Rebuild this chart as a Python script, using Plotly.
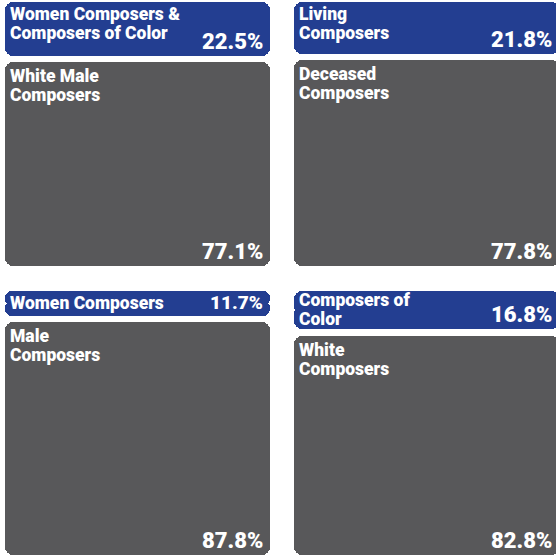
import plotly.graph_objects as go

# ---- data ----
blue_labels = [["Women Composers &", "Composers of Color"], ["Living", "Composers"],
               ["Women Composers"], ["Composers of", "Color"]]
blue_values = [22.5, 21.8, 11.7, 16.8]
gray_labels = [["White Male", "Composers"], ["Deceased", "Composers"],
               ["Male", "Composers"], ["White", "Composers"]]
gray_values = [77.1, 77.8, 87.8, 82.8]
blue_pct_sizes = [22, 22, 19, 22]

# ---- style ----
W, H = 556, 555
BLUE = "#233E91"
GRAY = "#58585A"
GAP = 2.3          # gap between the two blocks (data units)
RADIUS = 8
FONT = "Roboto"
LABEL_SIZE = 17.5
LINE_H = 19
CAP_H = 12.5
CAP_OFFSET = 6.5   # approx. distance from annotation top to cap top
WEIGHT = 900
PAD_BLUE = 6.5
PAD_GRAY = 8.5

# panel pixel boxes: (left, right_visible, bar_right), (top, bottom)
px_x = [(5, 270, 270), (294, 556, 559), (5, 270, 270), (294, 556, 559)]
px_y = [(1, 266), (1, 266), (290, 555), (290, 555)]

fig = go.Figure()
layout = dict(width=W, height=H, margin=dict(l=0, r=0, t=0, b=0),
              paper_bgcolor="white", plot_bgcolor="white",
              barmode="overlay", bargap=0, showlegend=False)
annotations = []

for i in range(4):
    n = i + 1
    xa = "x" if n == 1 else f"x{n}"
    ya = "y" if n == 1 else f"y{n}"
    left, rvis, rbar = px_x[i]
    top, bot = px_y[i]
    full_w = rbar - left
    vis_w = rvis - left
    px_per_unit = (bot - top) / 100.0
    layout[f"xaxis{'' if n == 1 else n}"] = dict(
        domain=[left / W, rvis / W], range=[-0.5, -0.5 + vis_w / full_w],
        visible=False, fixedrange=True, anchor=ya)
    layout[f"yaxis{'' if n == 1 else n}"] = dict(
        domain=[(H - bot) / H, (H - top) / H], range=[0, 100],
        visible=False, fixedrange=True, anchor=xa)

    g = gray_values[i]
    b = blue_values[i]
    blocks = [(0, g, GRAY), (g + GAP, g + b, BLUE)]
    for lo, hi, col in blocks:
        h = hi - lo
        # upper part: rounded top corners
        fig.add_trace(go.Bar(x=[0], y=[h * 0.6], base=[lo + h * 0.4], width=1,
                             marker=dict(color=col, line=dict(width=0), cornerradius=RADIUS),
                             xaxis=xa, yaxis=ya, hoverinfo="skip"))
        # lower part: rounded bottom corners
        fig.add_trace(go.Bar(x=[0], y=[-h * 0.6], base=[hi - h * 0.4], width=1,
                             marker=dict(color=col, line=dict(width=0), cornerradius=RADIUS),
                             xaxis=xa, yaxis=ya, hoverinfo="skip"))

    crop = rbar - rvis
    # labels (one annotation per line for tight line spacing)
    label_sets = [(blue_labels[i], g + b, (b - GAP) * px_per_unit, PAD_BLUE),
                  (gray_labels[i], g, g * px_per_unit, PAD_GRAY)]
    for lines, ytop, block_px, pad_max in label_sets:
        text_h = CAP_H + (len(lines) - 1) * LINE_H
        pad = min(pad_max, (block_px - text_h) / 2)
        for k, line in enumerate(lines):
            annotations.append(dict(text=line, xref=f"{xa} domain", yref=ya, x=0, y=ytop,
                                    xanchor="left", yanchor="top", xshift=3,
                                    yshift=-(pad - CAP_OFFSET) - k * LINE_H,
                                    align="left", showarrow=False,
                                    font=dict(family=FONT, size=LABEL_SIZE, color="white",
                                              weight=WEIGHT)))
    # percentages
    for val, ybot, sz in [(b, g + GAP, blue_pct_sizes[i]), (g, 0, 22)]:
        annotations.append(dict(text=f"{val:.1f}%", xref=f"{xa} domain", yref=ya, x=1, y=ybot,
                                xanchor="right", yanchor="bottom", xshift=-5 + crop, yshift=0,
                                align="right", showarrow=False,
                                font=dict(family=FONT, size=sz, color="white", weight=WEIGHT)))

layout["annotations"] = annotations
fig.update_layout(**layout)
fig.write_html("out.html", config={"displayModeBar": False})
